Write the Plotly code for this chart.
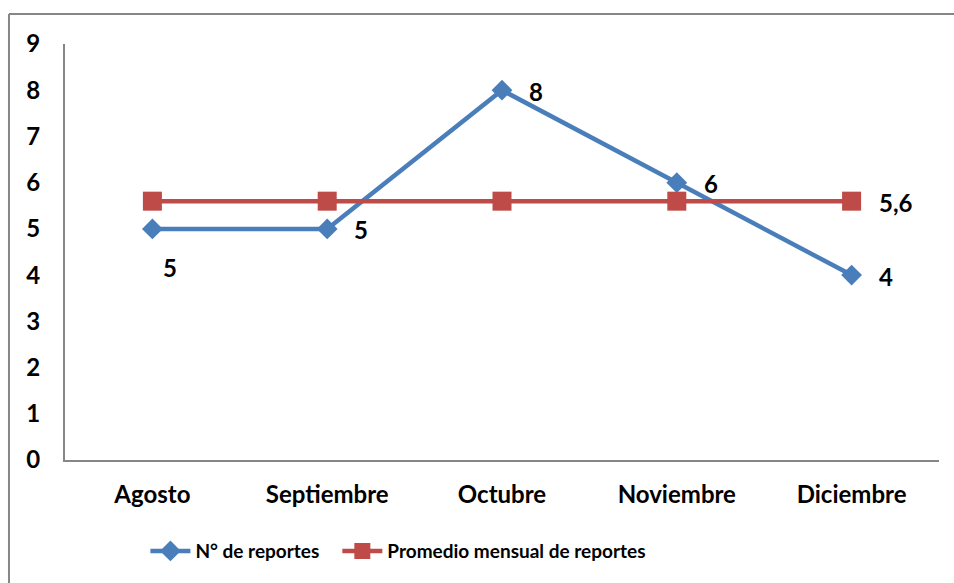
import plotly.graph_objects as go

months = ["Agosto", "Septiembre", "Octubre", "Noviembre", "Diciembre"]
reportes = [5, 5, 8, 6, 4]
promedio = [5.6, 5.6, 5.6, 5.6, 5.6]
y_ticks = [0, 1, 2, 3, 4, 5, 6, 7, 8, 9]

BLUE = "#4A7EBB"
RED = "#BE4B48"
FONT = "Lato"
LBL = dict(family=FONT, size=24, color="black", weight="bold")
LEG = dict(family=FONT, size=19, color="black", weight="bold")

fig = go.Figure()
fig.add_trace(go.Scatter(
    x=months, y=reportes, mode="lines+markers", name="N° de reportes",
    line=dict(color=BLUE, width=4.5),
    marker=dict(symbol="diamond", size=16, color=BLUE),
    legend="legend",
))
fig.add_trace(go.Scatter(
    x=months, y=promedio, mode="lines+markers", name="Promedio mensual de reportes",
    line=dict(color=RED, width=4.5),
    marker=dict(symbol="square", size=19, color=RED),
    legend="legend2",
))

annotations = []
for i, (m, v) in enumerate(zip(months, reportes)):
    if i == 0:
        annotations.append(dict(x=m, y=v, text=str(v), showarrow=False,
                                xanchor="left", yanchor="middle", xshift=9, yshift=-39, font=LBL))
    else:
        annotations.append(dict(x=m, y=v, text=str(v), showarrow=False,
                                xanchor="left", yanchor="middle", xshift=25, yshift=-1, font=LBL))
annotations.append(dict(x=months[-1], y=promedio[-1], text=str(promedio[-1]).replace(".", ","),
                        showarrow=False, xanchor="left", yanchor="middle", xshift=25, yshift=-1,
                        font=LBL))

leg_common = dict(orientation="h", xanchor="left", y=-0.219, yanchor="middle",
                  font=LEG, bgcolor="rgba(0,0,0,0)", itemwidth=40)

fig.update_layout(
    width=954, height=583,
    margin=dict(l=65, r=15, t=44, b=123),
    paper_bgcolor="white", plot_bgcolor="white",
    font=LBL,
    showlegend=True,
    legend=dict(x=0.092, **leg_common),
    legend2=dict(x=0.3116, **leg_common),
    annotations=annotations,
    shapes=[
        dict(type="line", xref="paper", yref="paper", x0=-0.0641, x1=1.2, y0=1.072, y1=1.072,
             line=dict(color="#868686", width=2)),
        dict(type="line", xref="paper", yref="paper", x0=-0.0641, x1=-0.0641, y0=-0.4, y1=1.072,
             line=dict(color="#868686", width=2)),
    ],
)
fig.update_xaxes(range=[-0.5, 4.5], showgrid=False, showline=True, linecolor="#868686",
                 linewidth=2, ticks="", ticklabelstandoff=12, zeroline=False)
fig.update_yaxes(range=[0, 9], tickvals=y_ticks, showgrid=False, showline=True,
                 linecolor="#868686", linewidth=2, ticks="", ticklabelstandoff=18,
                 zeroline=False)

fig.write_html("out.html", config={"displayModeBar": False},
               post_script="document.body.style.margin='0';")
